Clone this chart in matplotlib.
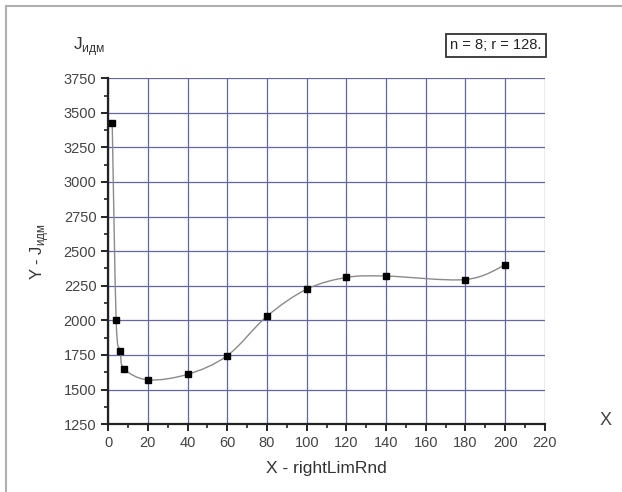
import numpy as np
import matplotlib
matplotlib.use('Agg')
import matplotlib.pyplot as plt
from matplotlib.path import Path
from matplotlib.patches import PathPatch
from matplotlib.lines import Line2D
from matplotlib.ticker import MultipleLocator

x_vals = [2, 4, 6, 8, 20, 40, 60, 80, 100, 120, 140, 180, 200]
y_vals = [3430, 2000, 1780, 1650, 1570, 1610, 1745, 2030, 2225, 2310, 2320,
          2295, 2400]

x_label = 'X - rightLimRnd'
y_label = r'Y - J$_{\mathregular{идм}}$'
legend_text = 'n = 8; r = 128.'


def smooth_path(xs, ys):
    # Catmull-Rom curve drawn as cubic bezier segments
    pts = np.column_stack([xs, ys]).astype(float)
    verts = [pts[0]]
    codes = [Path.MOVETO]
    n = len(pts)
    for i in range(n - 1):
        p0 = pts[max(i - 1, 0)]
        p1 = pts[i]
        p2 = pts[i + 1]
        p3 = pts[min(i + 2, n - 1)]
        c1 = p1 + (p2 - p0) / 6.
        c2 = p2 - (p3 - p1) / 6.
        verts += [c1, c2, p2]
        codes += [Path.CURVE4] * 3
    return Path(verts, codes)


def main():
    plt.rcParams['font.family'] = ['Liberation Sans', 'DejaVu Sans']

    fig = plt.figure(figsize=(6.22, 4.92), dpi=100)
    ax = fig.add_axes([0.174, 0.138, 0.702, 0.703])

    grid_clr = '#6464a8'
    ax.set_xlim(0, 220)
    ax.set_ylim(1250, 3750)
    ax.xaxis.set_major_locator(MultipleLocator(20))
    ax.xaxis.set_minor_locator(MultipleLocator(10))
    ax.yaxis.set_major_locator(MultipleLocator(250))
    ax.yaxis.set_minor_locator(MultipleLocator(125))
    ax.grid(True, which='major', color=grid_clr, lw=0.9)
    ax.set_axisbelow(True)

    for side in ('top', 'right'):
        ax.spines[side].set_visible(False)
    for side in ('left', 'bottom'):
        ax.spines[side].set_linewidth(1.6)
        ax.spines[side].set_color('#222222')

    ax.tick_params(which='major', direction='out', length=5, width=1.4,
                   labelsize=10.5, colors='#222222', labelcolor='#444444')
    ax.tick_params(which='minor', direction='out', length=3, width=1.2,
                   colors='#222222')

    patch = PathPatch(smooth_path(x_vals, y_vals), facecolor='none',
                      edgecolor='#8a8a8a', lw=1.0, zorder=3)
    ax.add_patch(patch)
    ax.plot(x_vals, y_vals, ls='none', marker='s', ms=5, color='black',
            zorder=4, clip_on=False)

    ax.set_xlabel(x_label, fontsize=12.5, color='#333333', labelpad=8)
    ax.set_ylabel(y_label, fontsize=12, color='#333333', labelpad=9)

    ax.text(1.14, -0.015, 'X', transform=ax.transAxes, fontsize=13,
            color='#444444', ha='center', va='bottom')
    fig.text(0.143, 0.905, r'J$_{\mathregular{идм}}$', fontsize=12.5,
             color='#333333', ha='center', va='center')

    ax.text(0.993, 1.095, legend_text, transform=ax.transAxes, fontsize=10.5,
            ha='right', va='center', color='#222222',
            bbox=dict(boxstyle='square,pad=0.3', fc='white', ec='#333333',
                      lw=1.3))

    # partial frame around the picture
    fig.add_artist(Line2D([6 / 622, 6 / 622], [0, 1 - 6 / 492],
                          transform=fig.transFigure, color='#b0b0b0', lw=1.5))
    fig.add_artist(Line2D([6 / 622, 1], [1 - 6 / 492, 1 - 6 / 492],
                          transform=fig.transFigure, color='#b0b0b0', lw=1.5))

    fig.savefig('out.png', dpi=100)
    plt.close()
    return


if __name__ == '__main__':
    main()
